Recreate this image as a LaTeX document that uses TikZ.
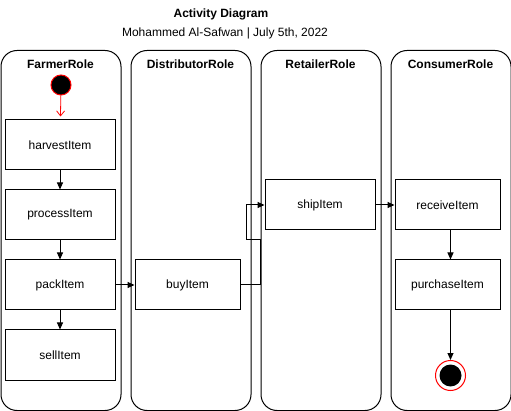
\documentclass[tikz,border=0pt]{standalone}
\usepackage{fontspec}
\setmainfont{Liberation Sans}
\usetikzlibrary{arrows.meta}

\tikzset{
  lane/.style={draw, line width=1pt, rounded corners=16pt, minimum width=120pt, minimum height=360pt, anchor=north west},
  lanetitle/.style={font=\bfseries\fontsize{12}{14}\selectfont},
  activity/.style={draw, line width=1pt, minimum height=50pt, inner sep=0pt, font=\fontsize{12}{14}\selectfont},
  flow/.style={-{Triangle[length=7pt,width=6pt]}, line width=1pt},
}

\begin{document}
\begin{tikzpicture}[x=1pt,y=-1pt]
    \useasboundingbox (0,0) rectangle (511,411);
    % titles
    \node[lanetitle] (title) at (221,14) {Activity Diagram};
    \node[font=\fontsize{12}{14}\selectfont] (subtitle) at (225,33) {Mohammed Al-Safwan | July 5th, 2022};
    % swimlanes
    \node[lane] (farmer) at (0.5,50) {};
    \node[lane] (distributor) at (130.5,50) {};
    \node[lane] (retailer) at (260.5,50) {};
    \node[lane] (consumer) at (390.5,50) {};
    \node[lanetitle] (farmerT) at (60.5,64) {FarmerRole};
    \node[lanetitle] (distributorT) at (190.5,64) {DistributorRole};
    \node[lanetitle] (retailerT) at (320.5,64) {RetailerRole};
    \node[lanetitle] (consumerT) at (450.5,64) {ConsumerRole};
    % start and end
    \node[circle, draw=red, fill=black, line width=1pt, minimum size=20pt, inner sep=0pt] (start) at (61,85) {};
    \node[circle, draw=red, fill=white, line width=1pt, minimum size=30pt, inner sep=0pt] (end) at (450.5,375.5) {};
    \node[circle, fill=black, minimum size=22pt, inner sep=0pt] (endDot) at (450.5,375.5) {};
    % activities
    \node[activity, minimum width=110pt] (harvest) at (60,145) {harvestItem};
    \node[activity, minimum width=110pt] (process) at (60,215) {processItem};
    \node[activity, minimum width=110pt] (pack) at (60,285) {packItem};
    \node[activity, minimum width=110pt] (sell) at (60,355) {sellItem};
    \node[activity, minimum width=105pt] (buy) at (187.5,285) {buyItem};
    \node[activity, minimum width=110pt] (ship) at (320,205) {shipItem};
    \node[activity, minimum width=105pt] (receive) at (447.5,205) {receiveItem};
    \node[activity, minimum width=105pt] (purchase) at (447.5,285) {purchaseItem};
    % flows
    \draw[-{Straight Barb[length=5pt,width=8pt]}, red, line width=0.8pt, shorten >=3pt] (start) -- (harvest);
    \draw[flow] (harvest) -- (process);
    \draw[flow] (process) -- (pack);
    \draw[flow] (pack) -- (sell);
    \draw[flow] (pack) -- (buy);
    \coordinate (bendA) at (260.5,240);
    \coordinate (bendB) at (246,205);
    \draw[flow] (buy.east) -| (bendA) -- (bendB |- bendA) -- (bendB) -- (ship.west);
    \draw[flow] (ship) -- (receive);
    \draw[flow] (receive.south -| end) -- (purchase.north -| end);
    \draw[flow] (purchase.south -| end) -- (end);
\end{tikzpicture}
\end{document}
